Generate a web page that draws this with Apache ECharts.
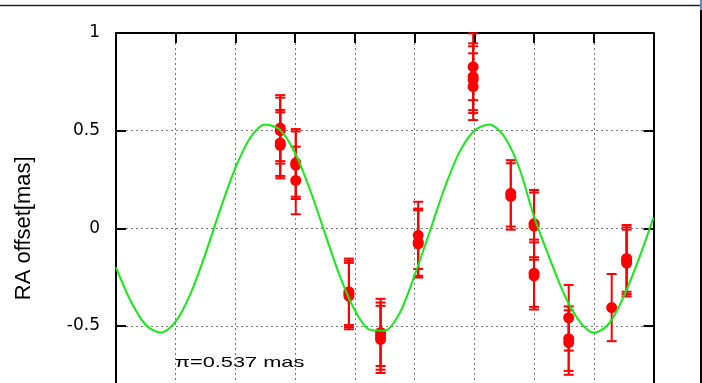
<!DOCTYPE html>
<html>
<head>
<meta charset="utf-8">
<title>RA offset</title>
<script src="https://cdn.jsdelivr.net/npm/echarts@6.0.0/dist/echarts.min.js"></script>
<style>
  html, body { margin: 0; padding: 0; background: #fff; }
  #main { width: 702px; height: 383px; }
</style>
</head>
<body>
<div id="main"></div>
<script>
// 观测点：历元(网格单位)、RA 偏移、误差
var epochX = [2.75, 2.75, 2.75, 2.75, 3.01, 3.01, 3.01, 3.90, 3.90, 3.90, 4.43, 4.43, 4.43,
  5.06, 5.06, 5.06, 5.98, 5.98, 5.98, 5.98, 6.61, 6.61, 7.00, 7.00, 7.00, 7.00,
  7.58, 7.58, 7.58, 8.30, 8.55, 8.55, 8.55]
var raOffset = [0.513, 0.500, 0.437, 0.425, 0.335, 0.323, 0.245, -0.325, -0.336, -0.347, -0.533, -0.552, -0.569,
  -0.036, -0.071, -0.080, 0.827, 0.776, 0.761, 0.725, 0.179, 0.163, 0.024, 0.011, -0.230, -0.244,
  -0.458, -0.565, -0.585, -0.406, -0.154, -0.166, -0.178]
var raError = [0.169, 0.169, 0.169, 0.169, 0.173, 0.173, 0.173, 0.170, 0.170, 0.170, 0.172, 0.172, 0.172,
  0.172, 0.172, 0.172, 0.171, 0.171, 0.171, 0.171, 0.170, 0.170, 0.172, 0.172, 0.172, 0.172,
  0.168, 0.165, 0.165, 0.172, 0.171, 0.171, 0.171]

// 视差拟合曲线 (从图上每 0.25 读一个值)
var fitX = [0, 0.25, 0.5, 0.75, 1, 1.25, 1.5, 1.75, 2, 2.25, 2.5, 2.75, 3, 3.25, 3.5, 3.75, 4, 4.25,
  4.5, 4.75, 5, 5.25, 5.5, 5.75, 6, 6.25, 6.5, 6.75, 7, 7.25, 7.5, 7.75, 8, 8.25, 8.5, 8.75, 9]
var fitY = [-0.20, -0.375, -0.495, -0.534, -0.477, -0.333, -0.128, 0.101, 0.310, 0.465, 0.532, 0.503,
  0.384, 0.196, -0.027, -0.246, -0.42, -0.519, -0.524, -0.434, -0.24, -0.02, 0.205, 0.39, 0.50, 0.531,
  0.47, 0.31, 0.06, -0.145, -0.335, -0.472, -0.535, -0.49, -0.35, -0.16, 0.055]

var xMin = 0, xMax = 9, xStep = 1
var yMin = -1, yMax = 1, yStep = 0.5
var parallaxText = 'π=0.537 mas'

var points = epochX.map(function (x, i) { return [x, raOffset[i], raError[i]] })
var curve = fitX.map(function (x, i) { return [x, fitY[i]] })

// 误差棒
function renderErrorBar(params, api) {
  var x = api.value(0)
  var y = api.value(1)
  var e = api.value(2)
  var hi = api.coord([x, y + e])
  var lo = api.coord([x, y - e])
  var cap = 5
  var style = { stroke: '#ff0000', lineWidth: 2 }
  return {
    type: 'group',
    children: [
      { type: 'line', shape: { x1: hi[0], y1: hi[1], x2: lo[0], y2: lo[1] }, style: style },
      { type: 'line', shape: { x1: hi[0] - cap, y1: hi[1], x2: hi[0] + cap, y2: hi[1] }, style: style },
      { type: 'line', shape: { x1: lo[0] - cap, y1: lo[1], x2: lo[0] + cap, y2: lo[1] }, style: style }
    ]
  }
}

var frameLine = { show: true, onZero: false, lineStyle: { color: '#000', width: 2 } }
var innerTick = { show: true, inside: true, length: 10, lineStyle: { color: '#000', width: 2 } }
var gridLine = { show: true, lineStyle: { color: '#777', type: [2, 3], width: 1 } }

var myChart = echarts.init(document.getElementById('main'))
var option = {
  animation: false,
  backgroundColor: '#fff',
  grid: { left: 116, right: 48.5, top: 33, bottom: -40.6, outerBoundsMode: 'none' },
  xAxis: [
    { type: 'value', min: xMin, max: xMax, interval: xStep, position: 'bottom',
      axisLine: frameLine, axisTick: innerTick, axisLabel: { show: false }, splitLine: gridLine },
    { type: 'value', min: xMin, max: xMax, interval: xStep, position: 'top',
      axisLine: frameLine, axisTick: innerTick, axisLabel: { show: false }, splitLine: { show: false } }
  ],
  yAxis: [
    { type: 'value', min: yMin, max: yMax, interval: yStep, position: 'left',
      axisLine: frameLine, axisTick: innerTick, splitLine: gridLine,
      axisLabel: { color: '#000', fontSize: 17, fontFamily: 'DejaVu Sans', margin: 16 },
      name: 'RA offset[mas]', nameLocation: 'middle', nameRotate: 90, nameGap: 81,
      nameTextStyle: { color: '#000', fontSize: 22, fontFamily: 'Liberation Sans' } },
    { type: 'value', min: yMin, max: yMax, interval: yStep, position: 'right',
      axisLine: frameLine, axisTick: innerTick, axisLabel: { show: false }, splitLine: { show: false } }
  ],
  series: [
    {
      type: 'custom',
      renderItem: renderErrorBar,
      encode: { x: 0, y: 1 },
      data: points,
      z: 2
    },
    {
      type: 'scatter',
      symbol: 'circle',
      symbolSize: 11,
      itemStyle: { color: '#ff0000', opacity: 1 },
      data: points.map(function (p) { return [p[0], p[1]] }),
      z: 3
    },
    {
      type: 'line',
      data: curve,
      showSymbol: false,
      smooth: 0.3,
      lineStyle: { color: '#11ee11', width: 2 },
      z: 4
    }
  ],
  graphic: [
    { type: 'text', x: 175, y: 363, scaleX: 1.45,
      style: { text: parallaxText, font: '15px "Liberation Sans"', fill: '#000', textAlign: 'left', textVerticalAlign: 'middle' } },
    // 截图外框
    { type: 'line', shape: { x1: 0, y1: 5.5, x2: 700, y2: 5.5 }, style: { stroke: '#222', lineWidth: 1.5 } },
    { type: 'line', shape: { x1: 701, y1: 8, x2: 701, y2: 383 }, style: { stroke: '#000', lineWidth: 2 } },
    { type: 'rect', shape: { x: 700, y: 0, width: 2, height: 10 }, style: { fill: '#5b8bd0' } }
  ]
}
myChart.setOption(option)
</script>
</body>
</html>
